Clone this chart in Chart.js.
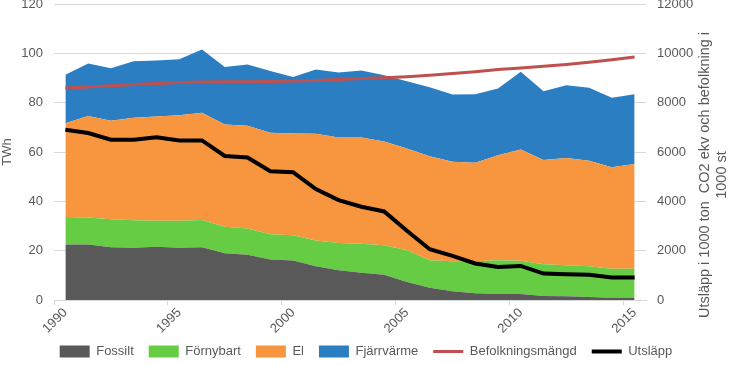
<!DOCTYPE html>
<html>
<head>
<meta charset="utf-8">
<script src="https://cdn.jsdelivr.net/npm/chart.js@4.4.0/dist/chart.umd.min.js"></script>
<style>
  html, body { margin: 0; padding: 0; background: #fff; }
</style>
</head>
<body>
<canvas id="energyChart" width="732" height="365"></canvas>
<script>
// ======================
// Data
// ======================
const years = ['1990', '1991', '1992', '1993', '1994', '1995', '1996', '1997', '1998', '1999',
               '2000', '2001', '2002', '2003', '2004', '2005', '2006', '2007', '2008', '2009',
               '2010', '2011', '2012', '2013', '2014', '2015'];
const shownYears = ['1990', '1995', '2000', '2005', '2010', '2015'];

// TWh, stacked
const fossilt = [22.5, 22.5, 21.4, 21.2, 21.6, 21.2, 21.4, 19.0, 18.3, 16.4, 16.0, 13.7, 12.1,
                 11.0, 10.2, 7.3, 5.0, 3.5, 2.7, 2.4, 2.4, 1.6, 1.5, 1.2, 0.9, 0.9];
const fornybart = [11.1, 10.9, 11.3, 11.1, 10.5, 10.9, 11.0, 10.7, 10.7, 10.3, 10.3, 10.4, 11.0,
                   11.8, 12.0, 12.9, 11.1, 12.2, 13.0, 13.7, 13.5, 12.9, 12.6, 12.5, 11.8, 11.8];
const el = [38.1, 41.2, 40.0, 41.6, 42.3, 42.8, 43.5, 41.4, 41.6, 41.1, 41.2, 43.3, 42.8,
            43.1, 42.1, 41.2, 42.2, 40.3, 39.9, 42.6, 45.1, 42.3, 43.5, 42.8, 41.1, 42.4];
const fjarrvarme = [19.6, 21.3, 21.3, 22.9, 22.7, 22.7, 25.7, 23.4, 24.9, 25.0, 22.9, 26.0, 26.3,
                    27.1, 26.8, 27.3, 27.9, 27.3, 27.8, 27.0, 31.5, 27.8, 29.5, 29.5, 28.2, 28.3];

// right axis (1000 ton CO2 ekv / 1000 st)
const befolkning = [8590, 8640, 8690, 8740, 8780, 8820, 8840, 8845, 8850, 8860, 8880, 8900, 8940,
                    8975, 9010, 9050, 9110, 9180, 9250, 9340, 9410, 9480, 9550, 9640, 9740, 9850];
const utslapp = [6900, 6770, 6500, 6500, 6600, 6470, 6470, 5840, 5780, 5220, 5180, 4500, 4050,
                 3780, 3590, 2810, 2060, 1790, 1480, 1340, 1380, 1070, 1040, 1020, 910, 910];

const leftTitle = 'TWh';
const rightTitle = ['Utsläpp i 1000 ton  CO2 ekv och befolkning i', '1000 st'];

const textColor = '#595959';
const gridColor = '#d9d9d9';
const fontFamily = '"Liberation Sans", Arial, sans-serif';

// area helper
function area(label, data, color, fill) {
    return {
        type: 'line', label: label, data: data, yAxisID: 'y', order: 1,
        backgroundColor: color, borderColor: color, borderWidth: 0,
        fill: fill, pointRadius: 0, pointHoverRadius: 0, tension: 0, pointStyle: 'rect'
    };
}
function line(label, data, color, width) {
    return {
        type: 'line', label: label, data: data, yAxisID: 'y1', order: 0,
        backgroundColor: color, borderColor: color, borderWidth: width,
        fill: false, pointRadius: 0, pointHoverRadius: 0, tension: 0, pointStyle: 'line'
    };
}

// right title reads bottom-to-top, so draw it ourselves
const rightTitlePlugin = {
    id: 'rightTitle',
    afterDraw(chart) {
        const ctx = chart.ctx;
        const s = chart.scales.y1;
        const mid = chart.chartArea.bottom - 125;
        ctx.save();
        ctx.fillStyle = textColor;
        ctx.font = '14.5px ' + fontFamily;
        ctx.textAlign = 'center';
        ctx.textBaseline = 'middle';
        rightTitle.forEach((txt, i) => {
            ctx.save();
            ctx.translate(s.right - 27 + i * 17, mid);
            ctx.rotate(-Math.PI / 2);
            ctx.fillText(txt, 0, 0);
            ctx.restore();
        });
        ctx.restore();
    }
};

new Chart(document.getElementById('energyChart').getContext('2d'), {
    data: {
        labels: years,
        datasets: [
            area('Fossilt', fossilt, '#595959', 'origin'),
            area('Förnybart', fornybart, '#66CC44', '-1'),
            area('El', el, '#F8963F', '-1'),
            area('Fjärrvärme', fjarrvarme, '#2B7EC1', '-1'),
            line('Befolkningsmängd', befolkning, '#C0504D', 3),
            line('Utsläpp', utslapp, '#000000', 4)
        ]
    },
    options: {
        responsive: false,
        animation: false,
        layout: { padding: { bottom: -3 } },
        plugins: {
            tooltip: { enabled: false },
            legend: {
                position: 'bottom',
                labels: {
                    color: textColor,
                    font: { size: 13, family: fontFamily },
                    usePointStyle: true,
                    pointStyleWidth: 30,
                    boxHeight: 12,
                    padding: 15,
                    sort: (a, b) => a.datasetIndex - b.datasetIndex
                }
            }
        },
        scales: {
            x: {
                type: 'category',
                offset: true,
                grid: {
                    offset: true,
                    drawOnChartArea: false,
                    tickLength: 5,
                    color: ctx => (ctx.index % 5 === 0 ? gridColor : 'transparent')
                },
                border: { color: gridColor },
                ticks: {
                    autoSkip: false,
                    maxRotation: 45,
                    minRotation: 45,
                    padding: 0,
                    color: textColor,
                    font: { size: 13, family: fontFamily },
                    callback: function (val) {
                        const lbl = this.getLabelForValue(val);
                        return shownYears.includes(lbl) ? lbl : '';
                    }
                },
                afterFit: s => {
                    s.height = 30;
                    s._computeLabelArea = () => undefined; // rotated labels run into the legend box
                }
            },
            y: {
                position: 'left',
                stacked: true,
                min: 0, max: 120,
                grid: { color: gridColor, tickLength: 8, tickColor: 'transparent' },
                border: { display: false },
                ticks: { stepSize: 20, padding: 3, color: textColor, font: { size: 13, family: fontFamily } },
                title: {
                    display: true, text: leftTitle, color: textColor,
                    font: { size: 13, family: fontFamily }, padding: 0
                },
                afterFit: s => { s.width = 54; s.paddingTop = 4; s.paddingBottom = 0; }
            },
            y1: {
                position: 'right',
                min: 0, max: 12000,
                grid: { drawOnChartArea: false, color: 'transparent', tickLength: 8 },
                border: { display: false },
                ticks: {
                    stepSize: 2000, padding: 3, color: textColor, font: { size: 13, family: fontFamily },
                    callback: v => String(v)
                },
                afterFit: s => { s.width = 86; s.paddingTop = 4; s.paddingBottom = 0; }
            }
        }
    },
    plugins: [rightTitlePlugin]
});
</script>
</body>
</html>
